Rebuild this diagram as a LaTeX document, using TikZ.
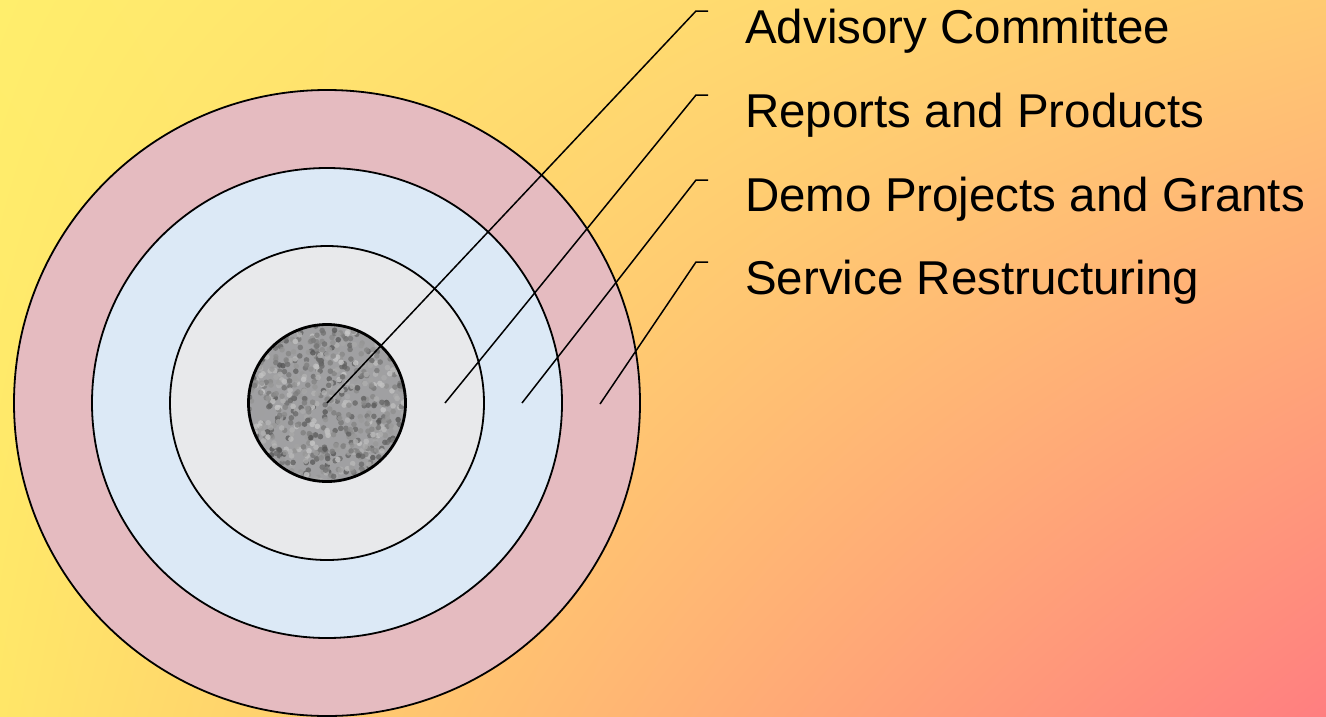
\documentclass[tikz,border=0pt]{standalone}
\usepackage{fontspec}
\setmainfont{Liberation Sans}
\usetikzlibrary{shadings}
\definecolor{bgyellow}{RGB}{255,238,108}
\definecolor{bgyellowlow}{RGB}{255,230,104}
\definecolor{bgorange}{RGB}{255,202,114}
\definecolor{bgsalmon}{RGB}{255,126,128}
\definecolor{ringpink}{RGB}{229,187,192}
\definecolor{ringblue}{RGB}{220,233,246}
\definecolor{ringmarble}{RGB}{232,233,235}
\definecolor{ringgranite}{RGB}{160,160,162}
\tikzset{
  ring/.style={circle, draw=black, line width=1.8pt, inner sep=0pt},
  lbl/.style={anchor=base west, inner sep=0pt, font=\fontsize{47.5}{57}\selectfont},
  leader/.style={line width=1.5pt}
}
\begin{document}
\begin{tikzpicture}[x=1pt,y=-1pt]
            % Background
            \useasboundingbox (0,0) rectangle (1326,716);
            \clip (0,0) rectangle (1326,716);
            \shade[upper left=bgyellow, lower left=bgyellowlow, upper right=bgorange, lower right=bgsalmon] (0,0) rectangle (1326,716);

            % Rings
            \node[ring, fill=ringpink, minimum size=626pt] (outer) at (327,403) {};
            \node[ring, fill=ringblue, minimum size=470pt] (second) at (327,403) {};
            \node[ring, fill=ringmarble, minimum size=314pt] (third) at (327,403) {};
            \node[ring, fill=ringgranite, minimum size=158pt] (core) at (327,403) {};

            % Granite specks
            \pgfmathsetseed{7}
            \begin{scope}
              \clip (327,403) circle (78);
              \foreach \i in {1,...,650} {
                \pgfmathsetmacro{\ang}{360*rnd}
                \pgfmathsetmacro{\rad}{78*sqrt(rnd)}
                \pgfmathsetmacro{\shd}{int(22+45*rnd)}
                \fill[black!\shd!white, opacity=0.8] (327,403) ++(\ang:\rad) circle (2.8);
              }
            \end{scope}
            \draw[line width=1.8pt] (core.center) circle (78);

            % Labels
            \node[lbl] (adv) at (745,43) {Advisory Committee};
            \node[lbl] (rep) at (745,127) {Reports and Products};
            \node[lbl] (demo) at (745,211) {Demo Projects and Grants};
            \node[lbl] (serv) at (745,294) {Service Restructuring};

            % Leader lines
            \coordinate (pAdv) at (327,403);
            \coordinate (pRep) at (445,403);
            \coordinate (pDemo) at (522,403);
            \coordinate (pServ) at (600,404);
            \coordinate (kAdv) at (696,11);
            \coordinate (kRep) at (696,95);
            \coordinate (kDemo) at (696,180);
            \coordinate (kServ) at (696,262);
            \draw[leader] (pAdv) -- (kAdv) -- ++(12,0);
            \draw[leader] (pRep) -- (kRep) -- ++(12,0);
            \draw[leader] (pDemo) -- (kDemo) -- ++(12,0);
            \draw[leader] (pServ) -- (kServ) -- ++(12,0);

        \end{tikzpicture}
\end{document}
